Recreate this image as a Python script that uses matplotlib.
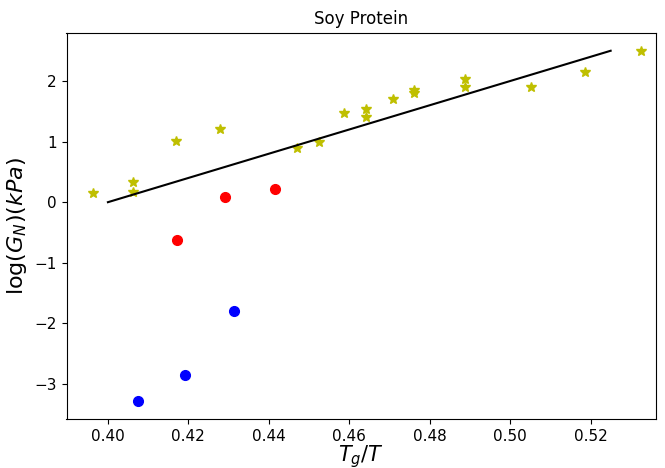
import matplotlib
matplotlib.use("Agg")
import matplotlib.pyplot as plt

# yellow stars
star_x = [0.3964, 0.4063, 0.4063, 0.4169, 0.4279, 0.4470, 0.4524, 0.4586, 0.4641, 0.4641,
          0.4708, 0.4760, 0.4760, 0.4887, 0.4887, 0.5053, 0.5187, 0.5326]
star_y = [0.146, 0.325, 0.163, 1.008, 1.20, 0.894, 0.99, 1.48, 1.545, 1.40,
          1.71, 1.85, 1.80, 2.03, 1.90, 1.90, 2.146, 2.50]

# red circles
red_x = [0.4172, 0.4291, 0.4415]
red_y = [-0.62, 0.08, 0.21]

# blue circles
blue_x = [0.4075, 0.4192, 0.4313]
blue_y = [-3.28, -2.85, -1.79]

# fitted line
line_x = [0.40, 0.525]
line_y = [0.0, 2.5]

fig, ax = plt.subplots(figsize=(6.65, 4.68), dpi=100)

ax.plot(star_x, star_y, "y*", markersize=7)
ax.plot(red_x, red_y, "ro", markersize=7)
ax.plot(blue_x, blue_y, "bo", markersize=7)
ax.plot(line_x, line_y, "k-", linewidth=1.5)

ax.set_xlim(0.3897, 0.5362)
ax.set_ylim(-3.577, 2.797)
ax.set_title("Soy Protein", fontsize=12)
ax.set_xlabel(r"$T_g/T$", fontsize=15, labelpad=0)
ax.set_ylabel(r"log$(G_N)(kPa)$", fontsize=16, labelpad=4)
ax.tick_params(labelsize=11)

plt.subplots_adjust(left=0.1, right=0.986, top=0.93, bottom=0.105)
plt.savefig("out.png", dpi=100)
